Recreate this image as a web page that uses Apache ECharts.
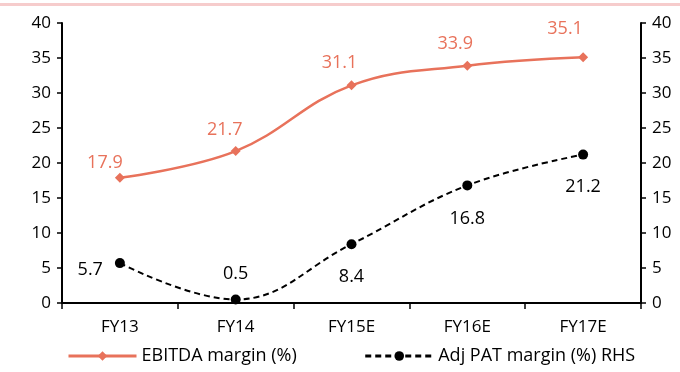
<!DOCTYPE html>
<html>
<head>
<meta charset="utf-8">
<script src="https://cdn.jsdelivr.net/npm/echarts@6/dist/echarts.min.js"></script>
<style>
  html, body { margin: 0; padding: 0; background: #fff; }
  #chart { width: 680px; height: 372px; }
</style>
</head>
<body>
<div id="chart"></div>
<script>
// Fiscal years on the category axis
var categories = ['FY13', 'FY14', 'FY15E', 'FY16E', 'FY17E'];
// EBITDA margin (%), left axis
var ebitdaMargin = [17.9, 21.7, 31.1, 33.9, 35.1];
// Adjusted PAT margin (%), right axis
var patMargin = [5.7, 0.5, 8.4, 16.8, 21.2];
// Tick values shared by both value axes
var axisTicks = [0, 5, 10, 15, 20, 25, 30, 35, 40];

var FONT = '"Open Sans", "Noto Sans", sans-serif';
var RED = '#e8725b';

// Per-point label placement for the EBITDA series
var ebitdaLabelPlacement = [
  { distance: 1, offset: [-15, 0] },
  { distance: 7, offset: [-11, 0] },
  { distance: 8, offset: [-12, 0] },
  { distance: 8, offset: [-12, 0] },
  { distance: 14, offset: [-18, 0] }
];
// Per-point label placement for the PAT series
var patLabelPlacement = [
  { position: 'left', distance: 12, offset: [0, 7] },
  { position: 'top', distance: 12, offset: [0, 0] },
  { position: 'bottom', distance: 19, offset: [0, 0] },
  { position: 'bottom', distance: 19, offset: [0, 0] },
  { position: 'bottom', distance: 18, offset: [0, 0] }
];

var chart = echarts.init(document.getElementById('chart'));

var valueAxisBase = {
  type: 'value',
  min: axisTicks[0],
  max: axisTicks[axisTicks.length - 1],
  interval: axisTicks[1] - axisTicks[0],
  splitLine: { show: false },
  axisLine: { show: true, lineStyle: { color: '#000', width: 2 } },
  axisTick: { show: true, inside: false, length: 5, lineStyle: { color: '#000', width: 1.5 } },
  axisLabel: { color: '#000', fontFamily: FONT, fontSize: 17, margin: 11 }
};

chart.setOption({
  animation: false,
  graphic: [{
    type: 'rect',
    shape: { x: 0, y: 3, width: 680, height: 3 },
    style: { fill: '#f6cccc' },
    silent: true
  }],
  grid: { left: 62, right: 39, top: 23, bottom: 69 },
  legend: {
    bottom: 2,
    left: 62,
    itemWidth: 68,
    itemHeight: 12,
    itemGap: 67,
    textStyle: { color: '#000', fontFamily: FONT, fontSize: 18 },
    data: [
      { name: 'EBITDA margin (%)', lineStyle: { width: 3 } },
      { name: 'Adj PAT margin (%) RHS', lineStyle: { width: 3 } }
    ]
  },
  xAxis: {
    type: 'category',
    data: categories,
    boundaryGap: true,
    axisLine: { lineStyle: { color: '#000', width: 2 } },
    axisTick: { show: true, length: 6, alignWithLabel: false, lineStyle: { color: '#000', width: 1.5 } },
    axisLabel: { color: '#000', fontFamily: FONT, fontSize: 17, margin: 16 }
  },
  yAxis: [
    Object.assign({}, valueAxisBase, { position: 'left' }),
    Object.assign({}, valueAxisBase, { position: 'right' })
  ],
  series: [
    {
      name: 'EBITDA margin (%)',
      type: 'line',
      yAxisIndex: 0,
      data: ebitdaMargin.map(function (v, i) {
        return { value: v, label: ebitdaLabelPlacement[i] };
      }),
      smooth: 0.4,
      symbol: 'diamond',
      symbolSize: 10,
      lineStyle: { color: RED, width: 2.5 },
      itemStyle: { color: RED },
      label: {
        show: true,
        position: 'top',
        color: RED,
        fontFamily: FONT,
        fontSize: 18
      }
    },
    {
      name: 'Adj PAT margin (%) RHS',
      type: 'line',
      yAxisIndex: 1,
      data: patMargin.map(function (v, i) {
        return { value: v, label: patLabelPlacement[i] };
      }),
      smooth: 0.4,
      symbol: 'circle',
      symbolSize: 10,
      lineStyle: { color: '#000', width: 2, type: [6, 4] },
      itemStyle: { color: '#000' },
      label: {
        show: true,
        color: '#000',
        fontFamily: FONT,
        fontSize: 18
      }
    }
  ]
});
</script>
</body>
</html>
